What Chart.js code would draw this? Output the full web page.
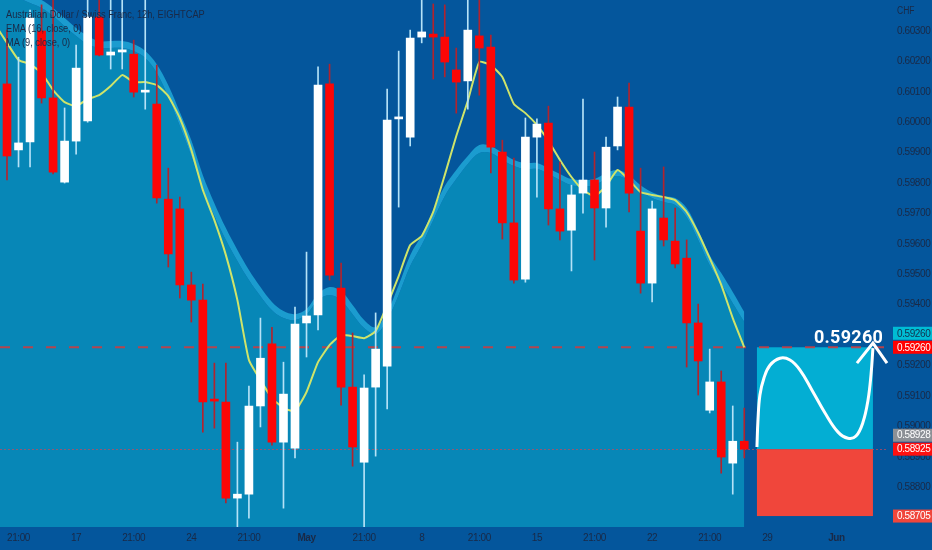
<!DOCTYPE html>
<html>
<head>
<meta charset="utf-8">
<script src="https://cdn.jsdelivr.net/npm/chart.js@4.4.0/dist/chart.umd.min.js"></script>
<style>
  html, body { margin: 0; padding: 0; background: #04569c; }
  #wrap { position: relative; width: 932px; height: 550px; overflow: hidden; }
  .txt { position: absolute; font-family: 'Liberation Sans', Arial, sans-serif; color: #1a2946; transform-origin: 0 0; }
  #legend { left: 6px; top: 7px; font-size: 11px; line-height: 14px; transform: scaleX(0.84); white-space: nowrap; }
  #cur { left: 897px; top: 5px; font-size: 10px; transform: scaleX(0.85); }
</style>
</head>
<body>
<div id="wrap">
  <canvas id="fxChart" width="932" height="550"></canvas>
  <div class="txt" id="legend">
    <div>Australian Dollar / Swiss Franc, 12h, EIGHTCAP</div>
    <div>EMA (16, close, 0)</div>
    <div>MA (9, close, 0)</div>
  </div>
  <div class="txt" id="cur">CHF</div>
</div>
<script>
// 12h candles
var opens  = [0.60126,0.59909,0.59935,0.60300,0.60080,0.59803,0.59938,0.60004,0.60346,0.60221,
              0.60231,0.60224,0.60099,0.60060,0.59747,0.59715,0.59465,0.59415,0.59085,0.59080,
              0.58764,0.58777,0.59067,0.59271,0.58948,0.58928,0.59340,0.59366,0.60126,0.59455,
              0.59129,0.58882,0.59129,0.59198,0.60011,0.59951,0.60280,0.60290,0.60280,0.60172,
              0.60136,0.60284,0.60247,0.59902,0.59669,0.59484,0.59951,0.59997,0.59715,0.59645,
              0.59767,0.59810,0.59718,0.59922,0.60050,0.59642,0.59471,0.59685,0.59609,0.59553,
              0.59340,0.59053,0.59146,0.58879,0.58951];
var highs  = [0.60303,0.60214,0.60369,0.60386,0.60420,0.60047,0.60254,0.60420,0.60420,0.60420,
              0.60420,0.60270,0.60420,0.60188,0.59849,0.59754,0.59507,0.59468,0.59208,0.59208,
              0.58948,0.59132,0.59356,0.59326,0.59211,0.59392,0.59573,0.60182,0.60191,0.59537,
              0.59307,0.59169,0.59373,0.60109,0.60234,0.60303,0.60420,0.60389,0.60386,0.60244,
              0.60420,0.60420,0.60287,0.59941,0.59882,0.60014,0.60011,0.60053,0.59869,0.59793,
              0.60076,0.59902,0.59951,0.60083,0.60129,0.59849,0.59741,0.59853,0.59718,0.59613,
              0.59402,0.59254,0.59182,0.59067,0.59060];
var lows   = [0.59810,0.59853,0.59853,0.60063,0.59830,0.59800,0.59895,0.60000,0.60218,0.60175,
              0.60175,0.60083,0.60043,0.59734,0.59524,0.59422,0.59343,0.58981,0.58994,0.58748,
              0.58660,0.58698,0.58998,0.58938,0.58731,0.58896,0.59228,0.59317,0.59481,0.59070,
              0.58869,0.58660,0.58902,0.59057,0.59721,0.59922,0.60261,0.60142,0.60149,0.60030,
              0.60043,0.60089,0.59833,0.59616,0.59471,0.59474,0.59754,0.59662,0.59613,0.59511,
              0.59701,0.59547,0.59655,0.59909,0.59705,0.59438,0.59409,0.59593,0.59521,0.59195,
              0.59103,0.59044,0.58846,0.58777,0.58896];
var closes = [0.59889,0.59932,0.60343,0.60080,0.59836,0.59938,0.60178,0.60346,0.60221,0.60231,
              0.60238,0.60099,0.60099,0.59751,0.59567,0.59465,0.59415,0.59080,0.59083,0.58764,
              0.58777,0.59067,0.59224,0.58948,0.59106,0.59336,0.59363,0.60122,0.59497,0.59129,
              0.58932,0.59126,0.59254,0.60007,0.60011,0.60277,0.60297,0.60280,0.60198,0.60132,
              0.60303,0.60244,0.59918,0.59669,0.59481,0.59951,0.59994,0.59715,0.59642,0.59761,
              0.59810,0.59718,0.59918,0.60050,0.59767,0.59471,0.59715,0.59613,0.59534,0.59340,
              0.59215,0.59146,0.58899,0.58951,0.58925];

// MA line and EMA cloud edges, one value per bar starting one bar before the first candle
var maLine     = [0.60320,0.60261,0.60205,0.60191,0.60162,0.60106,0.60066,0.60053,0.60076,0.60089,
                  0.60119,0.60155,0.60132,0.60132,0.60122,0.60086,0.60014,0.59909,0.59777,0.59678,
                  0.59563,0.59415,0.59218,0.59152,0.59093,0.59060,0.59050,0.59113,0.59211,0.59267,
                  0.59300,0.59297,0.59290,0.59313,0.59399,0.59494,0.59596,0.59626,0.59705,0.59826,
                  0.59955,0.60070,0.60198,0.60188,0.60149,0.60060,0.60030,0.59991,0.59938,0.59876,
                  0.59820,0.59777,0.59757,0.59790,0.59843,0.59810,0.59770,0.59761,0.59754,0.59744,
                  0.59705,0.59636,0.59553,0.59465,0.59356,0.59260];
var cloudTop   = [0.60468,0.60451,0.60435,0.60418,0.60402,0.60376,0.60343,0.60310,0.60284,0.60267,
                  0.60267,0.60267,0.60257,0.60234,0.60191,0.60122,0.60034,0.59941,0.59826,0.59734,
                  0.59652,0.59580,0.59514,0.59458,0.59409,0.59379,0.59369,0.59386,0.59435,0.59458,
                  0.59445,0.59399,0.59350,0.59326,0.59376,0.59465,0.59563,0.59629,0.59711,0.59790,
                  0.59843,0.59889,0.59925,0.59922,0.59899,0.59876,0.59866,0.59866,0.59849,0.59830,
                  0.59813,0.59810,0.59813,0.59833,0.59843,0.59826,0.59793,0.59770,0.59757,0.59751,
                  0.59718,0.59645,0.59563,0.59504,0.59442,0.59376];
var cloudInner = [0.60441,0.60425,0.60409,0.60392,0.60376,0.60349,0.60316,0.60284,0.60257,0.60244,
                  0.60244,0.60244,0.60234,0.60211,0.60162,0.60083,0.59988,0.59889,0.59777,0.59692,
                  0.59613,0.59544,0.59481,0.59428,0.59382,0.59356,0.59350,0.59369,0.59415,0.59432,
                  0.59415,0.59369,0.59323,0.59303,0.59350,0.59432,0.59527,0.59596,0.59678,0.59757,
                  0.59813,0.59863,0.59899,0.59899,0.59876,0.59856,0.59846,0.59846,0.59830,0.59810,
                  0.59793,0.59790,0.59793,0.59813,0.59823,0.59807,0.59774,0.59751,0.59738,0.59728,
                  0.59688,0.59613,0.59530,0.59468,0.59405,0.59343];

// time axis (bar index -> label)
var timeTickPos  = [1, 6, 11, 16, 21, 26, 31, 36, 41, 46, 51, 56, 61, 66, 72];
var timeTickText = ['21:00','17','21:00','24','21:00','May','21:00','8','21:00','15','21:00','22','21:00','29','Jun'];
var timeTickBold = [false,false,false,false,false,true,false,false,false,false,false,false,false,false,true];
var priceTicks   = [0.588,0.589,0.590,0.591,0.592,0.593,0.594,0.595,0.596,0.597,0.598,0.599,0.600,0.601,0.602,0.603];

// projection drawing (bar index / price)
var targetPrice = 0.59260;
var entryPrice  = 0.58925;
var stopPrice   = 0.58705;
var bidPrice    = 0.58928;
var boxFrom = 65.1, boxTo = 75.17;
var curveX = [65.10,65.19,65.36,65.71,66.23,67.10,67.97,68.84,69.88,71.01,72.14,73.00,73.70,74.31,74.74,75.00,75.17];
var curveY = [0.58932,0.59021,0.59103,0.59159,0.59201,0.59224,0.59218,0.59185,0.59119,0.59044,0.58981,0.58961,0.58968,0.59014,0.59086,0.59169,0.59257];
var arrowX = [73.78, 75.17, 76.39];
var arrowY = [0.59208, 0.59274, 0.59208];

var axisFont = "'Liberation Sans', Arial, sans-serif";

var barIdx  = opens.map(function (v, i) { return i; });
var lineIdx = maLine.map(function (v, i) { return i - 1; });
var isUp = closes.map(function (c, i) { return c >= opens[i]; });

function pts(xs, ys) { return xs.map(function (x, i) { return { x: x, y: ys[i] }; }); }

var projection = {
  id: 'projection',
  beforeDraw: function (chart) {
    // tradingview axis text is a narrow face
    chart.ctx.letterSpacing = '-0.4px';
  },
  afterDatasetDraw: function (chart, args) {
    if (args.meta.label !== 'EMA band') return;
    var ctx = chart.ctx, a = chart.chartArea, x = chart.scales.x, y = chart.scales.y;
    var bx0 = x.getPixelForValue(boxFrom), bx1 = x.getPixelForValue(boxTo);
    var yT = y.getPixelForValue(targetPrice), yE = y.getPixelForValue(entryPrice), yS = y.getPixelForValue(stopPrice);
    ctx.save();
    ctx.fillStyle = '#03aed3';
    ctx.fillRect(bx0, yT, bx1 - bx0, yE - yT);
    ctx.fillStyle = '#f0463b';
    ctx.fillRect(bx0, yE, bx1 - bx0, yS - yE);
    // target line
    ctx.strokeStyle = 'rgba(200,62,66,0.9)';
    ctx.lineWidth = 2;
    ctx.setLineDash([10, 13]);
    ctx.beginPath(); ctx.moveTo(a.left, yT); ctx.lineTo(a.right, yT); ctx.stroke();
    // last price line
    ctx.strokeStyle = 'rgba(205,70,85,0.7)';
    ctx.lineWidth = 1;
    ctx.setLineDash([2, 2]);
    ctx.beginPath(); ctx.moveTo(a.left, Math.round(yE) + 0.5); ctx.lineTo(a.right, Math.round(yE) + 0.5); ctx.stroke();
    ctx.restore();
  },
  afterDraw: function (chart) {
    var ctx = chart.ctx, x = chart.scales.x, y = chart.scales.y;
    var tags = [
      { p: targetPrice, dy: -14, bg: '#00bcd4', fg: '#12304d' },
      { p: targetPrice, dy: 0,   bg: '#ff0000', fg: '#ffffff' },
      { p: bidPrice,    dy: -13, bg: '#8c9096', fg: '#ffffff' },
      { p: entryPrice,  dy: 0,   bg: '#ff1010', fg: '#ffffff' },
      { p: stopPrice,   dy: 0,   bg: '#f0463b', fg: '#ffffff' }
    ];
    ctx.save();
    ctx.font = '10px ' + axisFont;
    ctx.textBaseline = 'middle';
    tags.forEach(function (t) {
      var py = y.getPixelForValue(t.p) + t.dy;
      ctx.fillStyle = t.bg;
      ctx.fillRect(893, py - 6.5, 39, 13);
      ctx.fillStyle = t.fg;
      ctx.fillText(t.p.toFixed(5), 897, py + 0.5);
    });
    // target value over the projection
    ctx.letterSpacing = '0.3px';
    ctx.fillStyle = '#ffffff';
    ctx.font = 'bold 18px Roboto, sans-serif';
    ctx.textAlign = 'center';
    ctx.textBaseline = 'alphabetic';
    ctx.fillText(targetPrice.toFixed(5), x.getPixelForValue(73.05), y.getPixelForValue(targetPrice) - 4);
    ctx.restore();
  }
};

var ctx = document.getElementById('fxChart').getContext('2d');
var fxChart = new Chart(ctx, {
  type: 'bar',
  data: {
    datasets: [
      {
        type: 'bar', label: 'body',
        data: barIdx.map(function (i) { return { x: i, y: [opens[i], closes[i]] }; }),
        backgroundColor: isUp.map(function (u) { return u ? '#ffffff' : '#fc0606'; }),
        barThickness: 8, grouped: false, minBarLength: 2, order: 0
      },
      {
        type: 'bar', label: 'wick',
        data: barIdx.map(function (i) { return { x: i, y: [lows[i], highs[i]] }; }),
        backgroundColor: isUp.map(function (u) { return u ? '#b5e2f7' : '#b3232d'; }),
        barThickness: 1, grouped: false, order: 1
      },
      {
        type: 'line', label: 'MA',
        data: pts(lineIdx, maLine),
        borderColor: '#cfe46a', borderWidth: 2, pointRadius: 0, tension: 0.15, order: 2
      },
      {
        type: 'line', label: 'EMA band',
        data: pts(lineIdx, cloudTop),
        borderWidth: 0, borderColor: 'rgba(0,0,0,0)', backgroundColor: '#1b9ccf',
        fill: '+1', pointRadius: 0, tension: 0.35, order: 3
      },
      {
        type: 'line', label: 'EMA inner',
        data: pts(lineIdx, cloudInner),
        borderWidth: 0, borderColor: 'rgba(0,0,0,0)', backgroundColor: '#0787b7',
        fill: 'start', pointRadius: 0, tension: 0.35, order: 4
      },
      {
        type: 'line', label: 'path',
        data: pts(curveX, curveY),
        borderColor: '#ffffff', borderWidth: 3, pointRadius: 0, tension: 0.4, order: 0
      },
      {
        type: 'line', label: 'arrow',
        data: pts(arrowX, arrowY),
        borderColor: '#ffffff', borderWidth: 3, pointRadius: 0, tension: 0, clip: false, order: 0
      }
    ]
  },
  options: {
    responsive: false,
    animation: false,
    layout: { padding: 0 },
    plugins: { legend: { display: false }, tooltip: { enabled: false } },
    scales: {
      x: {
        type: 'linear', min: -0.608, max: 76.39, offset: false,
        grid: { display: false, drawTicks: false }, border: { display: false },
        afterBuildTicks: function (s) { s.ticks = timeTickPos.map(function (v) { return { value: v }; }); },
        afterFit: function (s) { s.height = 23; s.paddingLeft = 0; s.paddingRight = 0; },
        ticks: {
          autoSkip: false, maxRotation: 0, padding: 5, color: '#1a2946',
          font: function (c) { return { family: axisFont, size: 10, weight: timeTickBold[c.index] ? 'bold' : 'normal' }; },
          callback: function (v, i) { return timeTickText[i]; }
        }
      },
      y: {
        position: 'right', min: 0.58669, max: 0.60402,
        grid: { display: false, drawTicks: false }, border: { display: false },
        afterBuildTicks: function (s) { s.ticks = priceTicks.map(function (v) { return { value: v }; }); },
        afterFit: function (s) { s.width = 45; s.paddingTop = 0; s.paddingBottom = 0; },
        ticks: {
          padding: 10, color: '#1a2946',
          font: { family: axisFont, size: 10 },
          callback: function (v) { return v.toFixed(5); }
        }
      }
    }
  },
  plugins: [projection]
});
</script>
</body>
</html>
